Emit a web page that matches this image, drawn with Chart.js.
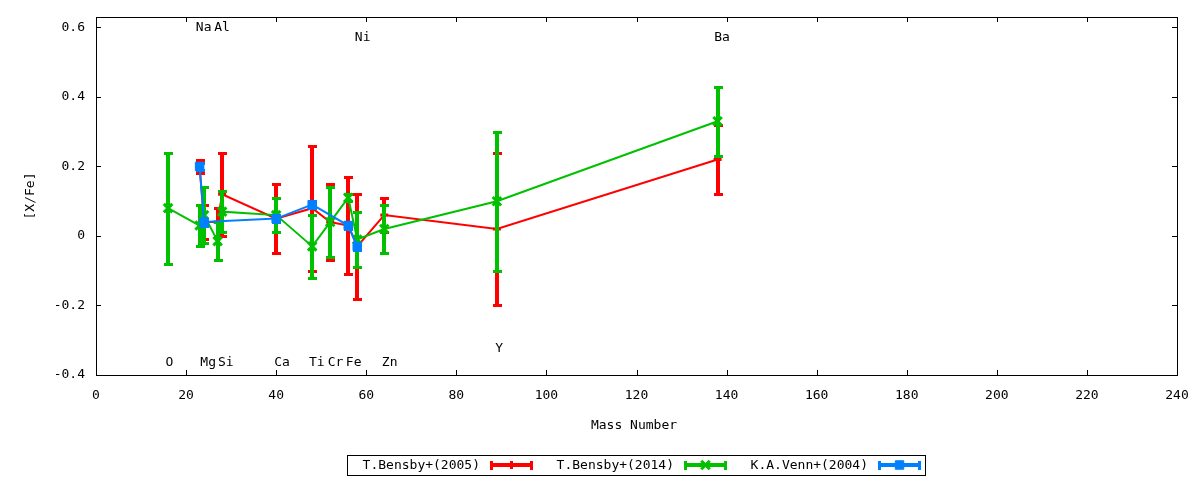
<!DOCTYPE html>
<html>
<head>
<meta charset="utf-8">
<title>[X/Fe] vs Mass Number</title>
<script src="https://cdn.jsdelivr.net/npm/chart.js@4.4.1/dist/chart.umd.min.js"></script>
<style>
  html, body { margin: 0; padding: 0; background: #fff; }
  #wrap { width: 1200px; height: 480px; }
</style>
</head>
<body>
<div id="wrap"><canvas id="abundChart" width="1200" height="480"></canvas></div>
<script>
// Elements and their mass numbers (x axis)
const elements = ['O', 'Na', 'Mg', 'Al', 'Si', 'Ca', 'Ti', 'Cr', 'Fe', 'Ni', 'Zn', 'Y', 'Ba'];
const massNumbers = [16, 23, 24, 27, 28, 40, 48, 52, 56, 58, 64, 89, 138];

// [X/Fe] per source, null = element not measured
const bensby2005 = [null, 0.20, 0.04, 0.04, 0.12, 0.05, 0.08, 0.04, 0.03, -0.03, 0.06, 0.02, 0.22];
const bensby2005Err = [null, 0.02, 0.05, 0.04, 0.12, 0.10, 0.18, 0.11, 0.14, 0.15, 0.05, 0.22, 0.10];

const bensby2014 = [0.08, 0.03, 0.06, -0.015, 0.07, 0.06, -0.03, 0.04, 0.11, -0.01, 0.02, 0.10, 0.33];
const bensby2014Err = [0.16, 0.06, 0.08, 0.055, 0.06, 0.05, 0.09, 0.10, 0.01, 0.08, 0.07, 0.20, 0.10];

const venn2004 = [null, 0.20, 0.04, null, null, 0.05, 0.09, null, 0.03, -0.03, null, null, null];
const venn2004Err = [null, 0.01, 0.01, null, null, 0.01, 0.01, null, 0.01, 0.01, null, null, null];

// element name labels placed in the plot (data coordinates)
const labelX = [16.3, 23.9, 24.9, 28.0, 28.8, 41.3, 49.0, 53.2, 57.2, 59.2, 65.2, 89.5, 139.0];
const labelY = [-0.365, 0.60, -0.365, 0.60, -0.365, -0.365, -0.365, -0.365, -0.365, 0.57, -0.365, -0.325, 0.57];

// axis ticks
const xTicks = [0, 20, 40, 60, 80, 100, 120, 140, 160, 180, 200, 220, 240];
const yTicks = [-0.4, -0.2, 0, 0.2, 0.4, 0.6];
const yTickLabels = ['-0.4', '-0.2', '0', '0.2', '0.4', '0.6'];

const FONT = '13px "DejaVu Sans Mono", monospace';

function toPoints(values, errs) {
    const pts = [];
    values.forEach((v, i) => {
        if (v === null) return;
        pts.push({ x: massNumbers[i], y: v, err: errs[i] });
    });
    return pts;
}

// fixed axis box sizes, no label overhang padding
function fixBox(s, size) {
    if (s.isHorizontal()) s.height = size; else s.width = size;
    s.paddingLeft = 0;
    s.paddingRight = 0;
    s.paddingTop = 0;
    s.paddingBottom = 0;
}

// gnuplot style error bars, drawn just before each dataset's own line
const errorBarPlugin = {
    id: 'errorBars',
    beforeDatasetDraw(chart, args) {
        const ds = chart.data.datasets[args.index];
        const { ctx, scales: { x, y } } = chart;
        ctx.save();
        ctx.fillStyle = ds.borderColor;
        ds.data.forEach(p => {
            const px = Math.round(x.getPixelForValue(p.x));
            const top = Math.round(y.getPixelForValue(p.y + p.err));
            const bot = Math.round(y.getPixelForValue(p.y - p.err));
            ctx.fillRect(px - 2, top, 4, bot - top);
            ctx.fillRect(px - 4, top - 1, 9, 3);
            ctx.fillRect(px - 4, bot - 1, 9, 3);
        });
        ctx.restore();
    }
};

function drawSample(ctx, ds, x0, x1, yc) {
    ctx.fillStyle = ds.borderColor;
    ctx.strokeStyle = ds.borderColor;
    ctx.fillRect(x0, yc - 2, x1 - x0, 4);
    ctx.fillRect(x0, yc - 4, 3, 9);
    ctx.fillRect(x1 - 3, yc - 4, 3, 9);
    ctx.lineWidth = ds.pointBorderWidth;
    Chart.helpers.drawPoint(ctx, {
        pointStyle: ds.pointStyle,
        radius: ds.pointRadius,
        borderWidth: ds.pointBorderWidth,
        rotation: 0
    }, (x0 + x1) / 2, yc);
}

// border, inward mirrored ticks, element names, axis titles, key box
const framePlugin = {
    id: 'gnuplotFrame',
    afterDraw(chart) {
        const { ctx, chartArea: a, scales: { x, y } } = chart;
        ctx.save();
        ctx.strokeStyle = '#000';
        ctx.lineWidth = 1;
        ctx.beginPath();
        x.ticks.forEach(t => {
            const px = Math.round(x.getPixelForValue(t.value)) + 0.5;
            ctx.moveTo(px, a.bottom);
            ctx.lineTo(px, a.bottom - 5);
            ctx.moveTo(px, a.top);
            ctx.lineTo(px, a.top + 5);
        });
        y.ticks.forEach(t => {
            const py = Math.round(y.getPixelForValue(t.value)) + 0.5;
            ctx.moveTo(a.left, py);
            ctx.lineTo(a.left + 5, py);
            ctx.moveTo(a.right, py);
            ctx.lineTo(a.right - 5, py);
        });
        ctx.stroke();
        ctx.strokeRect(a.left + 0.5, a.top + 0.5, a.right - a.left, a.bottom - a.top);

        ctx.font = FONT;
        ctx.fillStyle = '#000';
        ctx.textAlign = 'center';
        ctx.textBaseline = 'middle';
        elements.forEach((el, i) => {
            ctx.fillText(el, x.getPixelForValue(labelX[i]), y.getPixelForValue(labelY[i]));
        });

        // axis titles
        ctx.fillText('Mass Number', 634, 426);
        ctx.save();
        ctx.translate(31, 196);
        ctx.rotate(-Math.PI / 2);
        ctx.fillText('[X/Fe]', 0, 0);
        ctx.restore();

        // key
        ctx.strokeRect(347.5, 455.5, 578, 20);
        const order = [0, 1, 2];
        order.forEach(i => {
            const ds = chart.data.datasets[i];
            const textRight = 480 + 194 * i;
            ctx.fillStyle = '#000';
            ctx.textAlign = 'right';
            ctx.fillText(ds.label, textRight, 466);
            drawSample(ctx, ds, textRight + 10, textRight + 53, 465);
        });
        ctx.restore();
    }
};

new Chart(document.getElementById('abundChart'), {
    type: 'line',
    data: {
        datasets: [
            {
                label: 'T.Bensby+(2005)',
                data: toPoints(bensby2005, bensby2005Err),
                borderColor: '#ff0000',
                backgroundColor: '#ff0000',
                borderWidth: 2,
                pointStyle: 'cross',
                pointRadius: 4,
                pointBorderWidth: 3,
                spanGaps: true,
                order: 3
            },
            {
                label: 'T.Bensby+(2014)',
                data: toPoints(bensby2014, bensby2014Err),
                borderColor: '#00c000',
                backgroundColor: '#00c000',
                borderWidth: 2,
                pointStyle: 'crossRot',
                pointRadius: 6,
                pointBorderWidth: 3,
                spanGaps: true,
                order: 2
            },
            {
                label: 'K.A.Venn+(2004)',
                data: toPoints(venn2004, venn2004Err),
                borderColor: '#0080ff',
                backgroundColor: '#0080ff',
                borderWidth: 2,
                pointStyle: 'rect',
                pointRadius: 6,
                pointBorderWidth: 1,
                spanGaps: true,
                order: 1
            }
        ]
    },
    options: {
        responsive: false,
        animation: false,
        devicePixelRatio: 1,
        layout: { padding: { top: 17, right: 23, left: 0, bottom: 0 } },
        plugins: {
            legend: { display: false },
            tooltip: { enabled: false }
        },
        scales: {
            x: {
                type: 'linear',
                min: 0,
                max: 240,
                grid: { display: false, drawTicks: false },
                border: { display: false },
                afterBuildTicks: s => { s.ticks = xTicks.map(v => ({ value: v })); },
                afterFit: s => fixBox(s, 105),
                ticks: {
                    padding: 13,
                    maxRotation: 0,
                    color: '#000',
                    font: { family: '"DejaVu Sans Mono", monospace', size: 13 },
                    callback: (v, i) => String(xTicks[i])
                }
            },
            y: {
                type: 'linear',
                min: -0.4,
                max: 0.63,
                grid: { display: false, drawTicks: false },
                border: { display: false },
                afterBuildTicks: s => { s.ticks = yTicks.map(v => ({ value: v })); },
                afterFit: s => fixBox(s, 96),
                ticks: {
                    padding: 11,
                    color: '#000',
                    font: { family: '"DejaVu Sans Mono", monospace', size: 13 },
                    callback: (v, i) => yTickLabels[i]
                }
            }
        }
    },
    plugins: [errorBarPlugin, framePlugin]
});
</script>
</body>
</html>
